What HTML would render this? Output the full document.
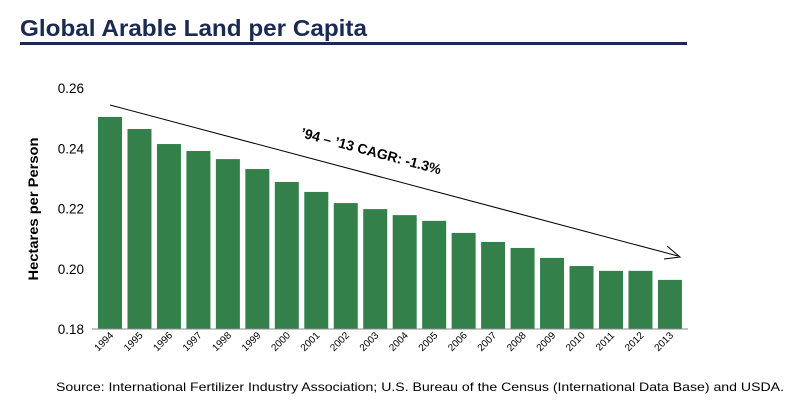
<!DOCTYPE html>
<html><head><meta charset="utf-8"><style>
body{margin:0;background:#fff;width:802px;height:413px;overflow:hidden;font-family:"Liberation Sans",Arial,sans-serif}
</style></head><body>
<svg id="c" width="802" height="413" xmlns="http://www.w3.org/2000/svg">
<text x="20" y="36" font-size="23" font-weight="bold" fill="#1a2a52" textLength="347" lengthAdjust="spacingAndGlyphs">Global Arable Land per Capita</text>
<rect x="20" y="42" width="667" height="3" fill="#1a2a52"/>
<text transform="translate(38,209) rotate(-90)" text-anchor="middle" font-size="14" font-weight="bold" fill="#000" textLength="143" lengthAdjust="spacingAndGlyphs">Hectares per Person</text>
<g id="bars"></g><g id="yt"></g><g id="xt"></g>
<line x1="92" y1="329" x2="688" y2="329" stroke="#888" stroke-width="1"/>
<line x1="110" y1="105" x2="678" y2="256" stroke="#000" stroke-width="1"/>
<polyline points="667,246 680,257 664,259" fill="none" stroke="#000" stroke-width="1"/>
<text transform="translate(300,137) rotate(15)" font-size="14" font-weight="bold" fill="#000">’94 – ’13 CAGR: -1.3%</text>
<text x="56" y="391" font-size="12" fill="#000" textLength="728" lengthAdjust="spacingAndGlyphs">Source:  International Fertilizer Industry Association; U.S. Bureau of the Census (International Data Base) and USDA.</text>
</svg>
<script>
const years=["1994","1995","1996","1997","1998","1999","2000","2001","2002","2003","2004","2005","2006","2007","2008","2009","2010","2011","2012","2013"];
const values=[0.2504,0.2464,0.2414,0.2391,0.2364,0.2331,0.2288,0.2255,0.2218,0.2198,0.2178,0.2159,0.2119,0.2089,0.2069,0.2036,0.2009,0.1993,0.1993,0.1963];
const yTicks=[0.18,0.20,0.22,0.24,0.26];
const NS="http://www.w3.org/2000/svg";
const y=v=>329-(v-0.18)/0.08*241;
const x=i=>98+i*29.47;
const bw=24;
const bars=document.getElementById('bars'),yt=document.getElementById('yt'),xt=document.getElementById('xt');
years.forEach((yr,i)=>{
 const r=document.createElementNS(NS,'rect');
 r.setAttribute('x',x(i));r.setAttribute('y',y(values[i]));
 r.setAttribute('width',bw);r.setAttribute('height',329-y(values[i]));
 r.setAttribute('fill','#33804a');
 
 
 bars.appendChild(r);
 const t=document.createElementNS(NS,'text');
 const cx=x(i)+bw/2+4,cy=336;
 t.setAttribute('transform','translate('+cx+','+cy+') rotate(-45)');
 t.setAttribute('text-anchor','end');t.setAttribute('font-size','10');
 t.textContent=yr;
 
 
 xt.appendChild(t);
});
yTicks.forEach(v=>{
 const t=document.createElementNS(NS,'text');
 t.setAttribute('x',84);t.setAttribute('y',y(v)+5);
 t.setAttribute('text-anchor','end');t.setAttribute('font-size','13.5');
 t.textContent=v.toFixed(2);
 
 
 yt.appendChild(t);
});
</script>
</body></html>
